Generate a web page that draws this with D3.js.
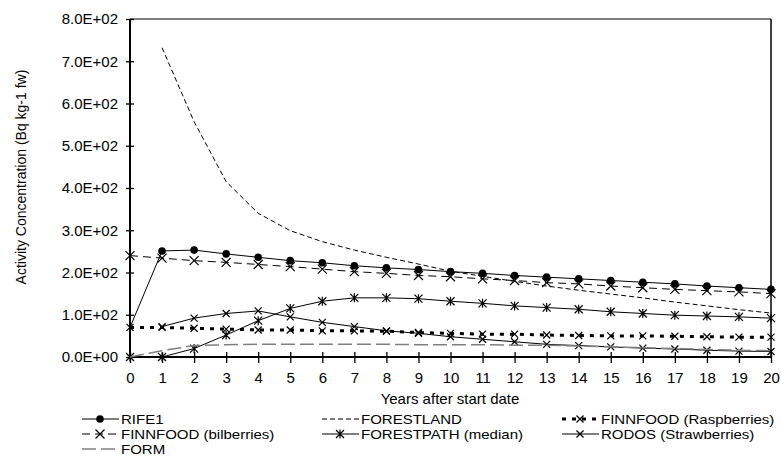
<!DOCTYPE html>
<html>
<head>
<meta charset="utf-8">
<script src="https://cdn.jsdelivr.net/npm/d3@7"></script>
<style>
  body { margin: 0; background: #fff; }
  svg { font-family: "Liberation Sans", Arial, sans-serif; }
</style>
</head>
<body>
<div id="chart"></div>
<script>
// values
var years = [0, 1, 2, 3, 4, 5, 6, 7, 8, 9, 10, 11, 12, 13, 14, 15, 16, 17, 18, 19, 20];
var yTicks = [0, 100, 200, 300, 400, 500, 600, 700, 800];

var rife1       = [70, 251, 253, 244, 236, 228, 223, 216, 211, 207, 202, 198, 193, 189, 185, 181, 177, 173, 168, 164, 160];
var forestland  = [null, 732, 557, 415, 340, 299, 273, 253, 236, 220, 203, 191, 179, 168, 158, 149, 140, 130, 121, 112, 104];
var raspberries = [70, 70, 68, 66, 64, 64, 62, 62, 61, 58, 56, 54, 54, 52, 51, 50, 50, 49, 48, 47, 47];
var bilberries  = [240, 234, 228, 224, 219, 214, 208, 202, 198, 193, 190, 185, 181, 176, 173, 168, 164, 160, 157, 154, 150];
var forestpath  = [0, 0, 20, 52, 86, 115, 132, 140, 140, 138, 132, 127, 121, 117, 113, 107, 103, 99, 97, 95, 92];
var rodos       = [null, 72, 92, 103, 109, 95, 82, 72, 62, 56, 48, 42, 36, 30, 27, 24, 21, 19, 16, 14, 13];
var form        = [0, 15, 27, 29, 30, 30, 30, 30, 30, 29, 29, 29, 28, 28, 26, 24, 22, 20, 18, 16, 15];

var seriesNames = ["RIFE1", "FORESTLAND", "FINNFOOD (Raspberries)", "FINNFOOD (bilberries)",
                   "FORESTPATH (median)", "RODOS (Strawberries)", "FORM"];

var series = [
  {name: seriesNames[0], values: rife1,       color: "#000", width: 1,   dash: null,   marker: "dot",  markFrom: 1},
  {name: seriesNames[1], values: forestland,  color: "#000", width: 1,   dash: "5,3",  marker: null},
  {name: seriesNames[2], values: raspberries, color: "#000", width: 3,   dash: "4,6",  marker: "x", size: 3.5},
  {name: seriesNames[3], values: bilberries,  color: "#000", width: 1,   dash: "8,5",  marker: "x", size: 4.5},
  {name: seriesNames[4], values: forestpath,  color: "#000", width: 1,   dash: null,   marker: "star", size: 4},
  {name: seriesNames[5], values: rodos,       color: "#000", width: 1,   dash: null,   marker: "x", size: 3.5},
  {name: seriesNames[6], values: form,        color: "#808080", width: 1.5, dash: "14,5", marker: null}
];

var width = 781, height = 460;
var svg = d3.select("#chart").append("svg")
    .attr("width", width)
    .attr("height", height);

var x = d3.scaleLinear().domain([0, 20]).range([130, 771]);
var y = d3.scaleLinear().domain([0, 800]).range([357, 19]);

function sci(v) {
  var s = v.toExponential(1).toUpperCase(); // e.g. 8.0E+2
  var parts = s.split("E");
  var sign = parts[1][0], exp = parts[1].slice(1);
  if (exp.length < 2) exp = "0" + exp;
  return parts[0] + "E" + sign + exp;
}

// frame: top and right
svg.append("line").attr("x1", x(0)).attr("x2", x(20)).attr("y1", y(800)).attr("y2", y(800))
  .attr("stroke", "#555").attr("stroke-width", 1.5);
svg.append("line").attr("x1", x(20)).attr("x2", x(20)).attr("y1", y(800)).attr("y2", y(0))
  .attr("stroke", "#000").attr("stroke-width", 1.5);

// y axis
var yAxis = svg.append("g")
    .attr("transform", "translate(" + x(0) + ",0)")
    .call(d3.axisLeft(y).tickValues(yTicks).tickFormat(sci).tickSize(4).tickPadding(8));
yAxis.selectAll(".tick line").attr("x2", 4).attr("x1", -4).attr("stroke-width", 1.3);
yAxis.select(".domain").attr("stroke-width", 2).attr("d", "M0," + y(800) + "V" + y(0));
yAxis.selectAll("text").attr("font-size", 15).attr("font-family", "Liberation Sans, Arial").attr("fill", "#000")
  .attr("x", -12);

// x axis
var xAxis = svg.append("g")
    .attr("transform", "translate(0," + y(0) + ")")
    .call(d3.axisBottom(x).tickValues(years).tickFormat(d3.format("d")).tickSize(6).tickPadding(10));
xAxis.selectAll(".tick line").attr("y1", -5).attr("y2", 6).attr("stroke-width", 1.3);
xAxis.select(".domain").attr("stroke-width", 2).attr("d", "M" + x(0) + ",0H" + x(20));
xAxis.selectAll("text").attr("font-size", 15).attr("font-family", "Liberation Sans, Arial").attr("fill", "#000")
  .attr("y", 15);

// axis titles
svg.append("text")
  .attr("x", 450).attr("y", 404)
  .attr("text-anchor", "middle")
  .attr("font-size", 15)
  .text("Years after start date");

svg.append("text")
  .attr("transform", "translate(26,177) rotate(-90)")
  .attr("text-anchor", "middle")
  .attr("font-size", 14)
  .text("Activity Concentration (Bq kg-1 fw)");

function drawMarker(g, type, cx, cy, s, color) {
  if (type === "dot") {
    g.append("circle").attr("cx", cx).attr("cy", cy).attr("r", 3.8).attr("fill", color);
  } else if (type === "x" || type === "star") {
    g.append("path")
      .attr("d", "M" + (cx - s) + "," + (cy - s) + "L" + (cx + s) + "," + (cy + s) +
                 "M" + (cx - s) + "," + (cy + s) + "L" + (cx + s) + "," + (cy - s) +
                 (type === "star" ? "M" + cx + "," + (cy - s - 0.5) + "V" + (cy + s + 0.5) : ""))
      .attr("stroke", color).attr("stroke-width", 1.2).attr("fill", "none");
  }
}

var line = d3.line()
    .defined(function(d) { return d.v !== null; })
    .x(function(d) { return x(d.year); })
    .y(function(d) { return y(d.v); });

var plot = svg.append("g");
series.forEach(function(s) {
  var pts = years.map(function(yr, i) { return {year: yr, v: s.values[i]}; });
  plot.append("path")
    .datum(pts)
    .attr("d", line)
    .attr("fill", "none")
    .attr("stroke", s.color)
    .attr("stroke-width", s.width)
    .attr("stroke-dasharray", s.dash);
  if (s.marker) {
    var mg = plot.append("g");
    pts.forEach(function(p, i) {
      if (p.v === null) return;
      if (s.markFrom && i < s.markFrom) return;
      drawMarker(mg, s.marker, x(p.year), y(p.v), s.size, "#000");
    });
  }
});

// legend: 3 columns, tight rows like the original
var legCols = [82, 322, 562];
var legRows = [419, 434, 449];
var legend = svg.append("g");
series.forEach(function(s, i) {
  var lx = legCols[i % 3], ly = legRows[Math.floor(i / 3)];
  var g = legend.append("g");
  g.append("line")
    .attr("x1", lx).attr("x2", lx + 37).attr("y1", ly).attr("y2", ly)
    .attr("stroke", s.color).attr("stroke-width", s.width)
    .attr("stroke-dasharray", s.dash);
  if (s.marker) drawMarker(g, s.marker, lx + 18, ly, s.size, "#000");
  var t = g.append("text")
    .attr("x", lx + 39).attr("y", ly + 4.5)
    .attr("font-size", 13)
    .text(s.name);
  // stretch glyphs back to the wider look of the original
  var w = t.node().getComputedTextLength();
  t.attr("textLength", w * 15 / 13).attr("lengthAdjust", "spacingAndGlyphs");
});
</script>
</body>
</html>
